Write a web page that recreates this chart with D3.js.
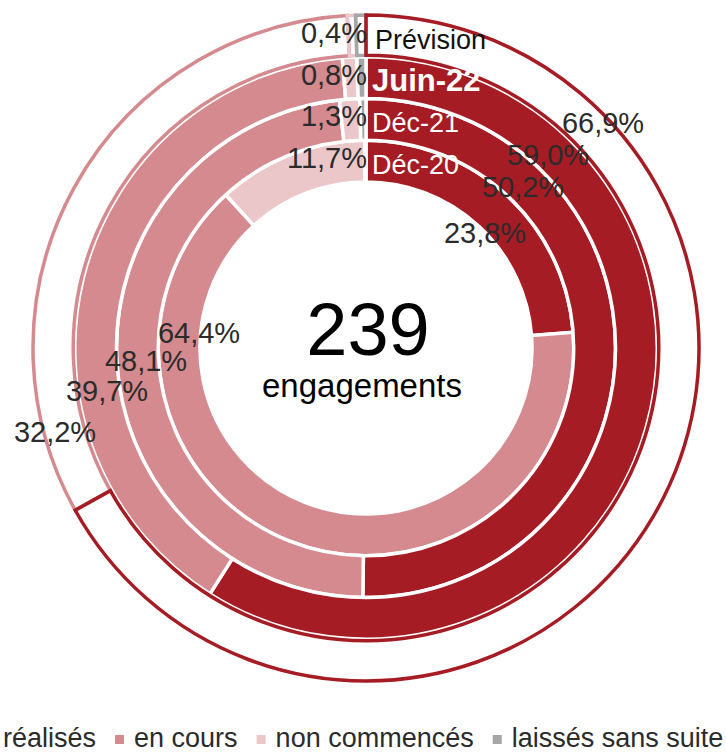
<!DOCTYPE html>
<html>
<head>
<meta charset="utf-8">
<script src="https://cdn.jsdelivr.net/npm/d3@7"></script>
<style>
  html, body { margin: 0; padding: 0; background: #fff; }
  svg { display: block; }
  text { font-family: "Liberation Sans", Arial, sans-serif; }
</style>
</head>
<body>
<div id="chart"></div>
<script>
// ---- Data ----
const rings = ["Déc-20", "Déc-21", "Juin-22", "Prévision"];
const categories = ["réalisés", "en cours", "non commencés", "laissés sans suite"];
const realises = [23.8, 50.2, 59.0, 66.9];
const enCours = [64.4, 48.1, 39.7, 32.2];
const nonCommences = [11.7, 1.3, 0.8, 0.4];
const laisses = [0.1, 0.4, 0.5, 0.5];
const totalEngagements = 239;
const centerLabel = "engagements";

// ---- Layout / style ----
const W = 726, H = 752;
const cx = 366, cy = 348;
const colors = ["#A51C24", "#D48A8E", "#EBC7C9", "#A6A6A6"];
const textColor = "#2b2b2b";
// label anchor offsets from the centre (layout only)
const realisesLabelOffset = [[119, -115], [157, -161], [182, -193], [237, -225]];
const enCoursLabelOffset = [[-167, -15], [-220, 13], [-259, 43], [-311, 84]];

const svg = d3.select("#chart").append("svg").attr("width", W).attr("height", H);
const g = svg.append("g").attr("transform", `translate(${cx},${cy})`);

const rScale = d3.scaleLinear().domain([0, rings.length]).range([166, 333]);
const color = d3.scaleOrdinal().domain(categories).range(colors);
const pie = d3.pie().sort(null).value(d => d.v).startAngle(0).endAngle(2 * Math.PI);

const series = [realises, enCours, nonCommences, laisses];
const ringData = rings.map((name, i) => ({
  name, i,
  values: categories.map((c, k) => ({ cat: c, v: series[k][i] }))
}));

ringData.forEach(rd => {
  const inner = rScale(rd.i), outer = rScale(rd.i + 1);
  const slices = pie(rd.values);
  const isForecast = rd.i === rings.length - 1;
  if (!isForecast) {
    const arc = d3.arc().innerRadius(inner).outerRadius(outer);
    g.append("g").selectAll("path").data(slices).join("path")
      .attr("d", arc)
      .attr("fill", d => color(d.data.cat))
      .attr("stroke", "#fff")
      .attr("stroke-width", 3.5)
      .attr("stroke-linejoin", "miter");
  } else {
    const arc = d3.arc().innerRadius(inner + 1.5).outerRadius(outer);
    // draw first slice last so its border stays on top
    const order = slices.slice(1).concat([slices[0]]);
    g.append("g").selectAll("path").data(order).join("path")
      .attr("d", arc)
      .attr("fill", "none")
      .attr("stroke", d => color(d.data.cat))
      .attr("stroke-width", 3.5)
      .attr("stroke-linejoin", "miter");
  }
});

// ---- Percentage labels ----
const fmt = v => d3.format(".1f")(v).replace(".", ",") + "%";
const lbl = g.append("g").attr("fill", textColor).attr("font-size", 29);

ringData.forEach(rd => {
  const i = rd.i;
  lbl.append("text")
    .attr("x", realisesLabelOffset[i][0]).attr("y", realisesLabelOffset[i][1])
    .attr("text-anchor", "middle").attr("dominant-baseline", "central")
    .text(fmt(realises[i]));
  lbl.append("text")
    .attr("x", enCoursLabelOffset[i][0]).attr("y", enCoursLabelOffset[i][1])
    .attr("text-anchor", "middle").attr("dominant-baseline", "central")
    .text(fmt(enCours[i]));
  const mid = (rScale(i) + rScale(i + 1)) / 2;
  lbl.append("text")
    .attr("x", 1).attr("y", -mid + 7)
    .attr("text-anchor", "end")
    .text(fmt(nonCommences[i]));
  // ring name
  const isForecast = i === rings.length - 1;
  const isCurrent = i === rings.length - 2;
  g.append("text")
    .attr("x", isForecast ? 9 : 6).attr("y", -mid + 13)
    .attr("font-size", isCurrent ? 31 : 27)
    .attr("font-weight", isCurrent ? "bold" : "normal")
    .attr("fill", isForecast ? "#111" : "#fff")
    .text(rd.name);
});

// ---- Centre text ----
g.append("text").attr("x", 2).attr("y", 7)
  .attr("text-anchor", "middle").attr("font-size", 74).attr("fill", "#000")
  .text(totalEngagements);
g.append("text").attr("x", -4).attr("y", 49)
  .attr("text-anchor", "middle").attr("font-size", 33).attr("fill", "#000")
  .text(centerLabel);

// ---- Legend ----
const leg = svg.append("g").attr("font-size", 27).attr("fill", textColor);
let tx = 3;
categories.forEach((c, k) => {
  leg.append("rect").attr("x", tx - 19).attr("y", 735).attr("width", 9).attr("height", 9)
    .attr("fill", color(c));
  const t = leg.append("text").attr("x", tx).attr("y", 747).text(c);
  tx += t.node().getComputedTextLength() + 38;
});
</script>
</body>
</html>
